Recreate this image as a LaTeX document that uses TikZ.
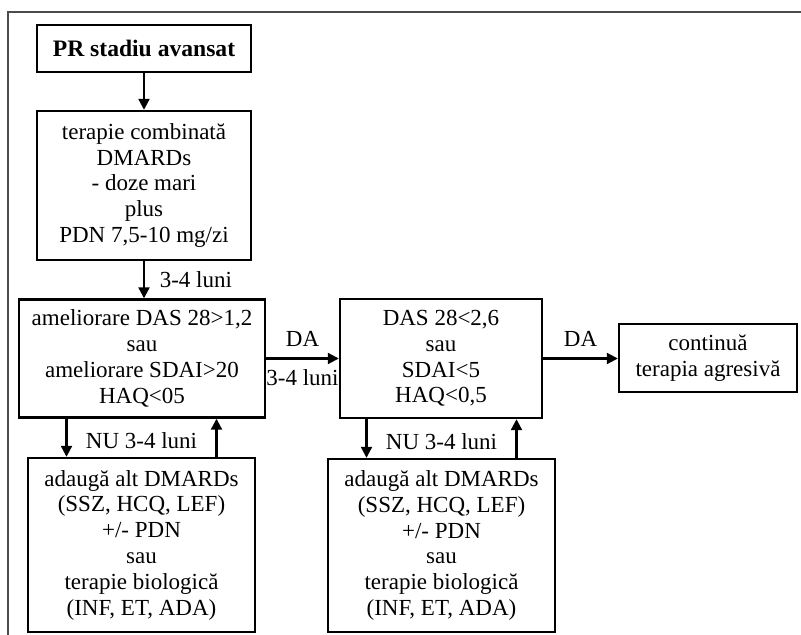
\documentclass[tikz,border=0pt]{standalone}
\usepackage{fontspec}
\setmainfont{Liberation Serif}
\usetikzlibrary{arrows.meta,positioning}

\begin{document}
\begin{tikzpicture}[
    x=0.5pt, y=-0.5pt,
    >={Triangle[length=5.5pt,width=5.5pt]},
    font=\fontsize{11.5}{12.9}\selectfont,
    box/.style={draw, line width=1.2pt, align=center, inner sep=0pt},
    link/.style={->, line width=1.1pt}
]

\useasboundingbox (0,0) rectangle (801,635);
\draw[line width=0.8pt, black!70] (8,660) -- (8,12) -- (830,12);

% left column
\node[box, minimum width=107pt, minimum height=23.5pt,
    font=\fontsize{11.8}{12.9}\selectfont\bfseries] (start) at (144,48.5)
{PR stadiu avansat};

\node[box, minimum width=107pt, minimum height=74.5pt] (combi) at (144,185.5)
{terapie combinată\\
DMARDs\\
- doze mari\\
plus\\
PDN 7,5-10 mg/zi};

\node[box, minimum width=123pt, minimum height=59pt] (amel) at (142,358.5)
{ameliorare DAS 28>1,2\\
sau\\
ameliorare SDAI>20\\
HAQ<05};

\node[box, minimum width=113.5pt, minimum height=87pt] (add1) at (141.5,545)
{adaugă alt DMARDs\\
(SSZ, HCQ, LEF)\\
+/- PDN\\
sau\\
terapie biologică\\
(INF, ET, ADA)};

% middle column
\node[box, minimum width=101pt, minimum height=59.5pt] (remis) at (441,358.5)
{DAS 28<2,6\\
sau\\
SDAI<5\\
HAQ<0,5};

\node[box, minimum width=113.5pt, minimum height=86.5pt] (add2) at (441.5,545.5)
{adaugă alt DMARDs\\
(SSZ, HCQ, LEF)\\
+/- PDN\\
sau\\
terapie biologică\\
(INF, ET, ADA)};

% right
\node[box, minimum width=89pt, minimum height=34pt] (cont) at (708,358)
{continuă\\
terapia agresivă};

% arrows
\draw[link] (start) -- (combi);
\draw[link] (combi.south) -- (combi.south |- amel.north)
    node[midway, right=4pt] (t1) {3-4 luni};
\draw[link] (amel.east) -- (amel.east -| remis.west)
    node[midway, above=2pt] (da1) {DA}
    node[midway, below=4pt, inner sep=1pt] (t2) {3-4 luni};
\draw[link] (remis.east) -- (remis.east -| cont.west)
    node[midway, above=2pt] (da2) {DA};

\coordinate (d1) at ([xshift=-37.5pt]add1.north);
\coordinate (u1) at ([xshift=37.5pt]add1.north);
\draw[link] (d1 |- amel.south) -- (d1);
\draw[link] (u1) -- (u1 |- amel.south);
\node[above=0.5pt of add1.north] (nu1) {NU 3-4 luni};

\coordinate (d2) at ([xshift=-37.5pt]add2.north);
\coordinate (u2) at ([xshift=37.5pt]add2.north);
\draw[link] (d2 |- remis.south) -- (d2);
\draw[link] (u2) -- (u2 |- remis.south);
\node[above=0.5pt of add2.north] (nu2) {NU 3-4 luni};

\end{tikzpicture}
\end{document}
